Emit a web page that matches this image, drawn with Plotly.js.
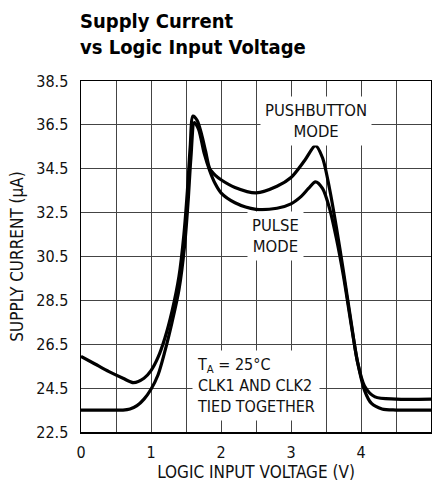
<!DOCTYPE html>
<html>
<head>
<meta charset="utf-8">
<script src="https://cdn.plot.ly/plotly-3.0.1.min.js"></script>
<style>
  html, body { margin: 0; padding: 0; background: #fff; }
  #chart { width: 432px; height: 489px; }
</style>
</head>
<body>
<div id="chart"></div>
<script>
// Logic input voltage (V) and supply current (µA)
const pushbuttonV = [0, 0.2, 0.4, 0.6, 0.75, 0.9, 1.0, 1.1, 1.2, 1.3, 1.4, 1.47, 1.52, 1.56, 1.6, 1.66, 1.72, 1.78, 1.84, 1.92, 2.0, 2.2, 2.5, 2.8, 3.0, 3.2, 3.35, 3.45, 3.55, 3.65, 3.75, 3.85, 3.95, 4.05, 4.2, 4.5, 5.0];
const pushbuttonI = [25.95, 25.6, 25.25, 24.95, 24.75, 24.95, 25.3, 25.9, 26.8, 28.0, 29.6, 31.5, 33.5, 35.5, 36.9, 36.7, 36.1, 35.3, 34.5, 34.2, 34.0, 33.65, 33.4, 33.7, 34.1, 34.9, 35.55, 35.0, 33.6, 31.8, 29.8, 27.7, 25.7, 24.6, 24.1, 24.0, 24.0];

const pulseV = [0, 0.3, 0.6, 0.7, 0.8, 0.9, 1.0, 1.1, 1.2, 1.3, 1.4, 1.48, 1.53, 1.57, 1.62, 1.68, 1.76, 1.84, 1.92, 2.0, 2.2, 2.5, 2.8, 3.0, 3.15, 3.25, 3.35, 3.45, 3.55, 3.65, 3.75, 3.85, 3.95, 4.05, 4.15, 4.3, 4.5, 5.0];
const pulseI = [23.5, 23.5, 23.5, 23.55, 23.7, 24.0, 24.45, 25.1, 26.2, 27.5, 29.0, 31.0, 33.0, 35.0, 36.6, 36.3, 35.2, 34.4, 33.8, 33.4, 32.95, 32.65, 32.7, 32.9, 33.25, 33.6, 33.9, 33.6, 32.7, 31.3, 29.6, 27.6, 25.7, 24.4, 23.8, 23.55, 23.5, 23.5];

const xTickVals = [0, 0.5, 1, 1.5, 2, 2.5, 3, 3.5, 4, 4.5, 5];
const xTickText = ['0', ' ', '1', ' ', '2', ' ', '3', ' ', '4', ' ', '5'];
const yTickVals = [22.5, 24.5, 26.5, 28.5, 30.5, 32.5, 34.5, 36.5, 38.5];
const yTickText = ['22.5', '24.5', '26.5', '28.5', '30.5', '32.5', '34.5', '36.5', '38.5'];

const FONT = '"Liberation Sans Narrow", "DejaVu Sans Condensed", "Roboto Condensed", "Arial Narrow", "Liberation Sans", sans-serif';

const lineStyle = { color: '#000', width: 3.2, shape: 'spline', smoothing: 0.8 };

const traces = [
  { x: pushbuttonV, y: pushbuttonI, mode: 'lines', name: 'PUSHBUTTON MODE', line: lineStyle, hoverinfo: 'skip' },
  { x: pulseV, y: pulseI, mode: 'lines', name: 'PULSE MODE', line: lineStyle, hoverinfo: 'skip' }
];

const layout = {
  width: 432, height: 489,
  margin: { l: 81, r: 1, t: 81, b: 57 },
  paper_bgcolor: '#fff', plot_bgcolor: '#fff',
  showlegend: false,
  font: { family: FONT, size: 16, color: '#111' },
  title: {
    text: '<b>Supply Current<br>vs Logic Input Voltage</b>',
    font: { family: FONT, size: 20, color: '#000' },
    xref: 'container', yref: 'container',
    x: 80 / 432, xanchor: 'left',
    y: 1 - 28 / 489, yanchor: 'top'
  },
  xaxis: {
    range: [0, 5], tickvals: xTickVals, ticktext: xTickText,
    showgrid: true, gridcolor: '#444', gridwidth: 1,
    showline: true, mirror: true, linecolor: '#000', linewidth: 1.5,
    ticks: '', zeroline: false, ticklabelstandoff: 5,
    tickfont: { family: FONT, size: 16, color: '#111' },
    title: { text: 'LOGIC INPUT VOLTAGE (V)', font: { family: FONT, size: 17, color: '#111' }, standoff: 5 }
  },
  yaxis: {
    range: [22.5, 38.5], tickvals: yTickVals, ticktext: yTickText,
    showgrid: true, gridcolor: '#444', gridwidth: 1,
    showline: true, mirror: true, linecolor: '#000', linewidth: 1.5,
    ticks: '', zeroline: false, ticklabelstandoff: 8,
    tickfont: { family: FONT, size: 16, color: '#111' },
    title: { text: 'SUPPLY CURRENT (µA)', font: { family: FONT, size: 17, color: '#111' }, standoff: 8 }
  },
  annotations: [
    { x: 3.35, y: 36.67, xref: 'x', yref: 'y', showarrow: false,
      text: 'PUSHBUTTON<br>MODE', align: 'center', bgcolor: '#fff', borderpad: 4,
      font: { family: FONT, size: 16.5, color: '#111' } },
    { x: 2.78, y: 31.43, xref: 'x', yref: 'y', showarrow: false,
      text: 'PULSE<br>MODE', align: 'center', bgcolor: '#fff', borderpad: 4,
      font: { family: FONT, size: 16.5, color: '#111' } },
    { x: 2.5, y: 24.64, xref: 'x', yref: 'y', showarrow: false,
      text: 'T<sub>A</sub> = 25°C<br>CLK1 AND CLK2<br>TIED TOGETHER', align: 'left', bgcolor: '#fff', borderpad: 4,
      font: { family: FONT, size: 16, color: '#111' } }
  ]
};

Plotly.newPlot('chart', traces, layout, { staticPlot: true, displayModeBar: false });
</script>
</body>
</html>
